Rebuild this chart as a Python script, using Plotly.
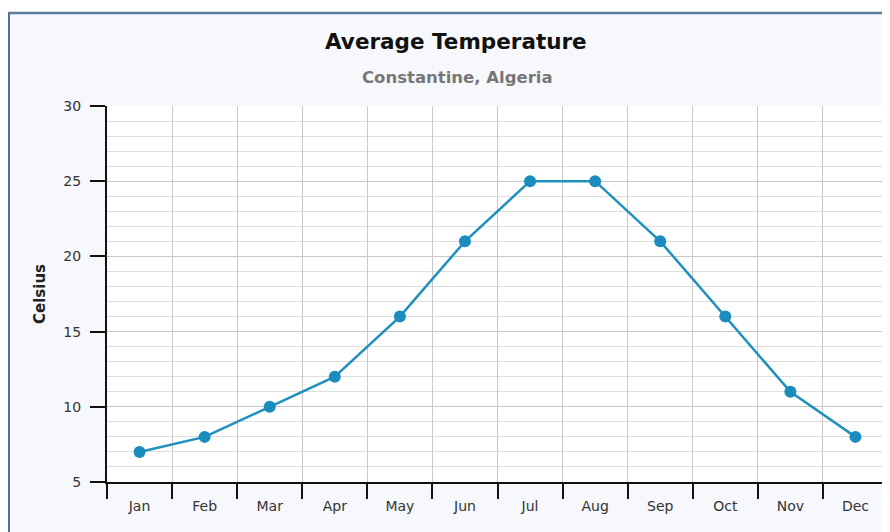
import plotly.graph_objects as go

months = ["Jan", "Feb", "Mar", "Apr", "May", "Jun", "Jul", "Aug", "Sep", "Oct", "Nov", "Dec"]
celsius = [7, 8, 10, 12, 16, 21, 25, 25, 21, 16, 11, 8]
y_ticks = [5, 10, 15, 20, 25, 30]
title_text = "Average Temperature"
subtitle_text = "Constantine, Algeria"
y_title = "Celsius"

# the page body has an 8px margin, so figure coords = page coords - 8
OFF = 8
W, H = 890 - OFF, 532 - OFF
L, T = 107 - OFF, 106 - OFF
R = W - (888 - OFF)
B = H - (482 - OFF)
PW, PH = W - L - R, H - T - B


def px(xp):
    return (xp - OFF - L) / PW


def py(yp):
    return 1 - (yp - OFF - T) / PH


fig = go.Figure()
fig.add_trace(go.Scatter(
    x=months, y=celsius, mode="lines+markers",
    line=dict(color="#2090be", width=2.5),
    marker=dict(color="#1a8cbd", size=12),
    hoverinfo="x+y", showlegend=False,
))

font_main = "DejaVu Sans, sans-serif"

fig.update_layout(
    width=W, height=H,
    margin=dict(l=L, r=R, t=T, b=B, pad=0),
    paper_bgcolor="#f7f8fc",
    plot_bgcolor="#ffffff",
    font=dict(family=font_main, size=14, color="#333333"),
    xaxis=dict(
        type="category", tickson="boundaries", range=[-0.5, 11.5],
        showgrid=True, gridcolor="#c8c8c8", gridwidth=1,
        ticks="outside", ticklen=15, tickwidth=2, tickcolor="#111111",
        showline=True, linecolor="#111111", linewidth=2,
        tickfont=dict(size=14, color="#333333"),
        ticklabelstandoff=10,
        fixedrange=True,
    ),
    yaxis=dict(
        range=[5, 30], tickvals=y_ticks,
        showgrid=True, gridcolor="#c8c8c8", gridwidth=1,
        minor=dict(dtick=1, showgrid=True, gridcolor="#dedede", gridwidth=1),
        ticks="outside", ticklen=15, tickwidth=2, tickcolor="#111111",
        showline=True, linecolor="#111111", linewidth=2,
        tickfont=dict(size=14, color="#333333"),
        ticklabelstandoff=6,
        zeroline=False, fixedrange=True,
    ),
    annotations=[
        dict(text="<b>" + title_text + "</b>", xref="paper", yref="paper",
             x=px(456), y=py(42),
             xanchor="center", yanchor="middle", showarrow=False,
             font=dict(size=21.5, color="#111111", family=font_main)),
        dict(text="<b>" + subtitle_text + "</b>", xref="paper", yref="paper",
             x=px(457), y=py(77),
             xanchor="center", yanchor="middle", showarrow=False,
             font=dict(size=16.5, color="#777777", family=font_main)),
        dict(text="<b>" + y_title + "</b>", xref="paper", yref="paper",
             x=px(40), y=0.5, textangle=-90,
             xanchor="center", yanchor="middle", showarrow=False,
             font=dict(size=15, color="#222222", family=font_main)),
    ],
    shapes=[
        dict(type="rect", xref="paper", yref="paper",
             x0=px(0), x1=px(890), y0=py(0), y1=py(13),
             fillcolor="#ffffff", line=dict(width=0), layer="below"),
        dict(type="line", xref="paper", yref="paper",
             x0=px(8), x1=px(890), y0=py(13), y1=py(13),
             line=dict(color="#5b7d99", width=2.5)),
        dict(type="line", xref="paper", yref="paper",
             x0=px(8.5), x1=px(8.5), y0=py(13), y1=py(540),
             line=dict(color="#4a70a8", width=3)),
    ],
)

fig.write_html("out.html")
